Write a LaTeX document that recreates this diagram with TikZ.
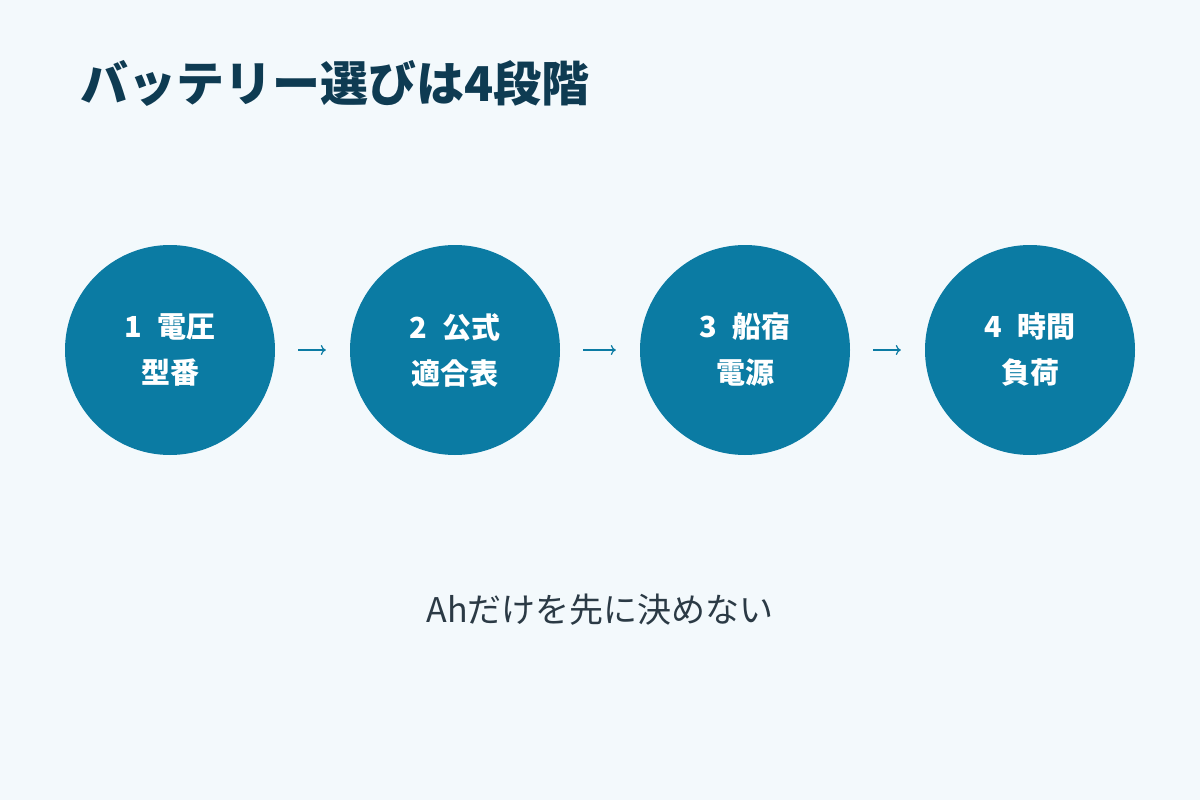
\documentclass[tikz,border=0pt]{standalone}
\usepackage{fontspec}
\setmainfont{Noto Sans CJK JP}
\usetikzlibrary{arrows.meta}
\definecolor{bgcol}{HTML}{F3F9FC}
\definecolor{stepcol}{HTML}{0B7BA3}
\definecolor{titlecol}{HTML}{0E3B52}
\definecolor{notecol}{HTML}{2B3A45}
\begin{document}
\begin{tikzpicture}[x=1pt, y=-1pt]
    \fill[bgcol] (0,0) rectangle (1200,800);
    \useasboundingbox (0,0) rectangle (1200,800);

    \node[anchor=west, inner sep=0pt, text=titlecol, font=\fontsize{48}{54}\selectfont\bfseries] (title) at (80,83) {バッテリー選びは4段階};

    \begin{scope}[every node/.style={circle, fill=stepcol, minimum size=210pt, inner sep=0pt, text=white, align=center, font=\fontsize{29}{46}\selectfont\bfseries}]
        \node (1) at (170,350) {1\enspace 電圧\\型番};
        \node (2) at (455,350) {2\enspace 公式\\適合表};
        \node (3) at (745,350) {3\enspace 船宿\\電源};
        \node (4) at (1030,350) {4\enspace 時間\\負荷};
    \end{scope}

    \begin{scope}[every edge/.style={draw=stepcol, line width=1.2pt, shorten <=23pt, shorten >=24pt}]
        \path [-{To[length=5pt, width=10pt]}] (1) edge (2);
        \path [-{To[length=5pt, width=10pt]}] (2) edge (3);
        \path [-{To[length=5pt, width=10pt]}] (3) edge (4);
    \end{scope}

    \node[text=notecol, font=\fontsize{34}{40}\selectfont] (note) at (600,610) {Ahだけを先に決めない};
\end{tikzpicture}
\end{document}
